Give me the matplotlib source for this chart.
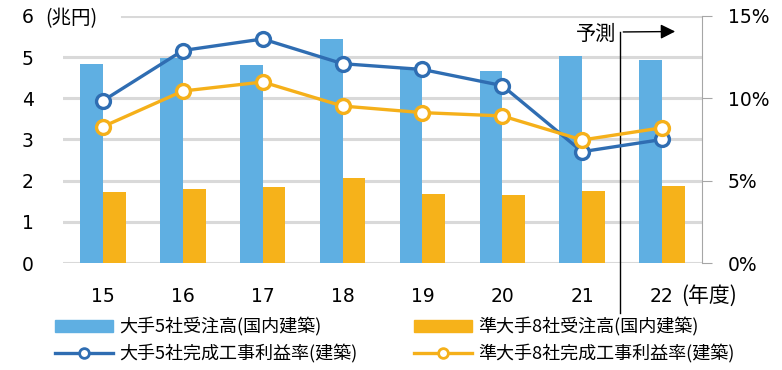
import numpy as np
import matplotlib.pyplot as plt
import matplotlib.transforms as mtransforms
from matplotlib.lines import Line2D
from matplotlib.patches import Patch

plt.rcParams['font.family'] = ['Noto Sans CJK JP', 'DejaVu Sans']

years = ["15", "16", "17", "18", "19", "20", "21", "22"]
major_orders = [4.83, 4.98, 4.80, 5.44, 4.71, 4.66, 5.02, 4.93]      # 兆円
semi_orders = [1.72, 1.80, 1.84, 2.06, 1.67, 1.65, 1.74, 1.86]       # 兆円
major_margin = [9.85, 12.9, 13.6, 12.1, 11.75, 10.77, 6.76, 7.5]     # %
semi_margin = [8.28, 10.44, 10.99, 9.53, 9.13, 8.93, 7.47, 8.21]     # %

c_bar_blue = "#5fafe2"
c_bar_orange = "#f6b21a"
c_line_blue = "#2f6db2"
c_line_orange = "#f5b01a"
c_grid = "#d9d9d9"
num_font = 'DejaVu Sans'

fig = plt.figure(figsize=(7.82, 3.70), dpi=100)
ax = fig.add_axes([0.0806, 0.289, 0.817, 0.668])
ax2 = ax.twinx()

x = np.arange(len(years))
w = 0.285
ax.bar(x - w / 2, major_orders, w, color=c_bar_blue, zorder=2)
ax.bar(x + w / 2, semi_orders, w, color=c_bar_orange, zorder=2)

ax.set_xlim(-0.5, len(years) - 0.5)
ax.set_ylim(0, 6)
ax.set_yticks(range(7))
for v in range(6):
    ax.axhline(v, color=c_grid, lw=2.2, zorder=1)
ax.axhline(6, xmin=0.0925, color=c_grid, lw=2.2, zorder=1)
for s in ax.spines.values():
    s.set_visible(False)
ax.tick_params(axis='y', length=0, pad=21, labelsize=13.5,
               labelfontfamily=num_font)
ax.tick_params(axis='x', length=0, pad=17, labelsize=13.5,
               labelfontfamily=num_font)
ax.set_xticks(x)
ax.set_xticklabels(years)
ax.text(-0.028, 5.93, "(兆円)", transform=ax.get_yaxis_transform(),
        fontsize=14, va='center', ha='left')
ax.text(7.24, -0.8, "(年度)", fontsize=15, va='center', ha='left')

ax2.plot(x, major_margin, color=c_line_blue, lw=2.4, marker='o', ms=10,
         mfc='white', mec=c_line_blue, mew=2.4, zorder=3)
ax2.plot(x, semi_margin, color=c_line_orange, lw=2.4, marker='o', ms=10,
         mfc='white', mec=c_line_orange, mew=2.4, zorder=3)
ax2.set_ylim(0, 15)
ax2.set_yticks([0, 5, 10, 15])
ax2.set_yticklabels(["0%", "5%", "10%", "15%"])
for k, s in ax2.spines.items():
    s.set_visible(k == 'right')
ax2.spines['right'].set_color('#a6a6a6')
ax2.tick_params(axis='y', length=7, color='#a6a6a6', pad=11.5,
                labelsize=13.5, labelfontfamily=num_font)

# 予測 marker
trans = mtransforms.blended_transform_factory(ax.transData, ax.transAxes)
ax.plot([6.48, 6.48], [0.935, -0.2], color='black', lw=1, transform=trans,
        clip_on=False, zorder=5)
ax.annotate("", xy=(7.2, 0.937), xytext=(6.48, 0.935), xycoords=trans,
            textcoords=trans,
            arrowprops=dict(arrowstyle='-|>', color='black', lw=1,
                            mutation_scale=22), zorder=5)
ax.text(6.42, 0.925, "予測", transform=trans, fontsize=14.5, ha='right',
        va='center')

handles = [
    Patch(color=c_bar_blue),
    Line2D([], [], color=c_line_blue, lw=2.4, marker='o', ms=7, mfc='white',
           mec=c_line_blue, mew=2),
    Patch(color=c_bar_orange),
    Line2D([], [], color=c_line_orange, lw=2.4, marker='o', ms=7, mfc='white',
           mec=c_line_orange, mew=2),
]
labels = ["大手5社受注高(国内建築)", "大手5社完成工事利益率(建築)",
          "準大手8社受注高(国内建築)", "準大手8社完成工事利益率(建築)"]
fig.legend(handles, labels, ncol=2, loc='upper left',
           bbox_to_anchor=(0.07, 0.142), frameon=False, fontsize=13,
           handlelength=3.2, handletextpad=0.35, columnspacing=3.15,
           labelspacing=0.45, borderaxespad=0, borderpad=0)

fig.savefig("out.png", dpi=100)
